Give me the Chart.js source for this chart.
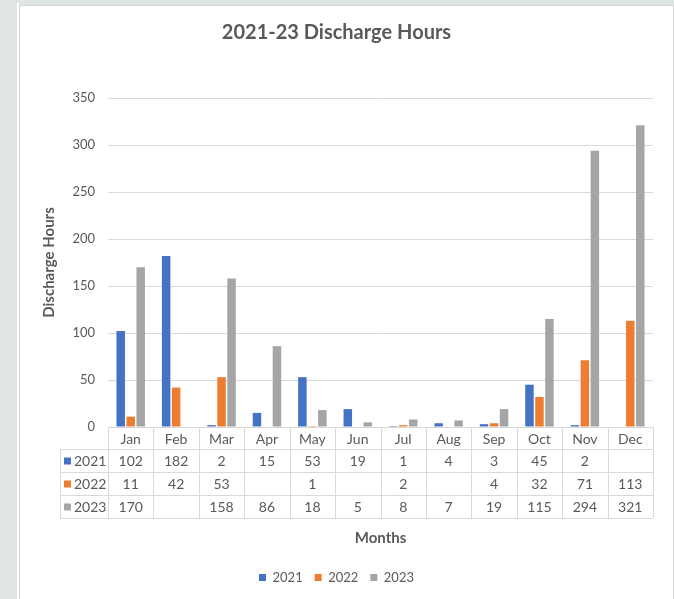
<!DOCTYPE html>
<html lang="en">
<head>
    <meta charset="UTF-8">
    <title>2021-23 Discharge Hours</title>
    <style>
        body { margin: 0; padding: 0; background-color: #dfe5e1; overflow: hidden; }
        .sheet-edge { position: absolute; left: 17px; top: 3px; width: 2px; height: 600px; background: #ffffff; }
        .chart-box {
            position: absolute; left: 19px; top: 5px;
            width: 653px; height: 600px;
            background: #fff;
            border-left: 1px solid #d4d4d4;
            border-top: 1px solid #d4d4d4;
            border-right: 1px solid #d4d4d4;
        }
    </style>
    <script src="https://cdn.jsdelivr.net/npm/chart.js"></script>
</head>
<body>

<div class="sheet-edge"></div>
<div class="chart-box">
    <canvas id="myChart" width="653" height="593"></canvas>
</div>

<script>
    const months = ['Jan', 'Feb', 'Mar', 'Apr', 'May', 'Jun', 'Jul', 'Aug', 'Sep', 'Oct', 'Nov', 'Dec'];
    const hours2021 = [102, 182, 2, 15, 53, 19, 1, 4, 3, 45, 2, null];
    const hours2022 = [11, 42, 53, null, 1, null, 2, null, 4, 32, 71, 113];
    const hours2023 = [170, null, 158, 86, 18, 5, 8, 7, 19, 115, 294, 321];
    const yTicks = [0, 50, 100, 150, 200, 250, 300, 350];

    const textColor = '#595959';
    const lineColor = '#d9d9d9';
    Chart.defaults.font.family = 'Lato, "Open Sans", sans-serif';
    Chart.defaults.color = textColor;

    // Excel style data table under the plot, laid out on the x scale
    const dataTablePlugin = {
        id: 'dataTable',
        afterDraw(chart) {
            const ctx = chart.ctx;
            const x = chart.scales.x;
            const area = chart.chartArea;
            const colW = (x.right - x.left) / months.length;
            const rowTops = [area.bottom, area.bottom + 22, area.bottom + 45, area.bottom + 68, area.bottom + 91];
            const headLeft = 40;

            ctx.save();
            ctx.strokeStyle = lineColor;
            ctx.lineWidth = 1;
            ctx.beginPath();
            // horizontal lines
            ctx.moveTo(x.left, rowTops[0] + 0.5);
            ctx.lineTo(x.right, rowTops[0] + 0.5);
            for (let r = 1; r < rowTops.length; r++) {
                ctx.moveTo(headLeft, Math.round(rowTops[r]) + 0.5);
                ctx.lineTo(x.right, Math.round(rowTops[r]) + 0.5);
            }
            // vertical lines
            for (let c = 0; c <= months.length; c++) {
                const px = Math.round(x.left + c * colW) + 0.5;
                ctx.moveTo(px, rowTops[0]);
                ctx.lineTo(px, rowTops[4]);
            }
            ctx.moveTo(headLeft + 0.5, rowTops[1]);
            ctx.lineTo(headLeft + 0.5, rowTops[4]);
            ctx.stroke();

            ctx.fillStyle = textColor;
            ctx.font = '14px Lato, "Open Sans", sans-serif';
            ctx.textAlign = 'center';
            ctx.textBaseline = 'middle';
            months.forEach((m, i) => {
                ctx.fillText(m, x.getPixelForValue(i), (rowTops[0] + rowTops[1]) / 2 + 1);
            });

            chart.data.datasets.forEach((ds, r) => {
                const yMid = (rowTops[r + 1] + rowTops[r + 2]) / 2 + 1;
                ctx.fillStyle = ds.backgroundColor;
                ctx.fillRect(headLeft + 4, yMid - 4, 7, 7);
                ctx.fillStyle = textColor;
                ctx.textAlign = 'left';
                ctx.fillText(ds.label, headLeft + 14, yMid);
                ctx.textAlign = 'center';
                ds.data.forEach((v, i) => {
                    if (v !== null) ctx.fillText(String(v), x.getPixelForValue(i), yMid);
                });
            });
            ctx.restore();
        }
    };

    const ctx = document.getElementById('myChart').getContext('2d');
    const myChart = new Chart(ctx, {
        type: 'bar',
        data: {
            labels: months,
            datasets: [
                { label: '2021', data: hours2021, backgroundColor: '#4472c4' },
                { label: '2022', data: hours2022, backgroundColor: '#ed7d31' },
                { label: '2023', data: hours2023, backgroundColor: '#a5a5a5' }
            ]
        },
        options: {
            responsive: false,
            animation: false,
            categoryPercentage: 0.66,
            barPercentage: 0.85,
            layout: { padding: { top: 0, right: 20, bottom: 5, left: 0 } },
            plugins: {
                title: {
                    display: true,
                    text: '2021-23 Discharge Hours',
                    color: textColor,
                    font: { size: 20, weight: 'bold' },
                    padding: { top: 15, bottom: 53 }
                },
                legend: {
                    position: 'bottom',
                    labels: { boxWidth: 7, boxHeight: 7, font: { size: 13 }, color: textColor, padding: 12 }
                },
                tooltip: { enabled: false }
            },
            scales: {
                x: {
                    grid: { display: false },
                    border: { display: false },
                    ticks: { display: false },
                    title: {
                        display: true,
                        text: 'Months',
                        color: textColor,
                        font: { size: 15, weight: 'bold' },
                        padding: { top: 0, bottom: 12 }
                    },
                    afterFit(scale) { scale.height = 132; }
                },
                y: {
                    min: 0,
                    max: 350,
                    afterBuildTicks(scale) { scale.ticks = yTicks.map(v => ({ value: v })); },
                    grid: { color: lineColor, drawTicks: false },
                    border: { display: false },
                    ticks: { font: { size: 13 }, color: textColor, padding: 13 },
                    title: {
                        display: true,
                        text: 'Discharge Hours',
                        color: textColor,
                        font: { size: 15, weight: 'bold' },
                        padding: { top: 20, bottom: 0 }
                    },
                    afterFit(scale) { scale.width = 88; }
                }
            }
        },
        plugins: [dataTablePlugin]
    });
</script>

</body>
</html>
